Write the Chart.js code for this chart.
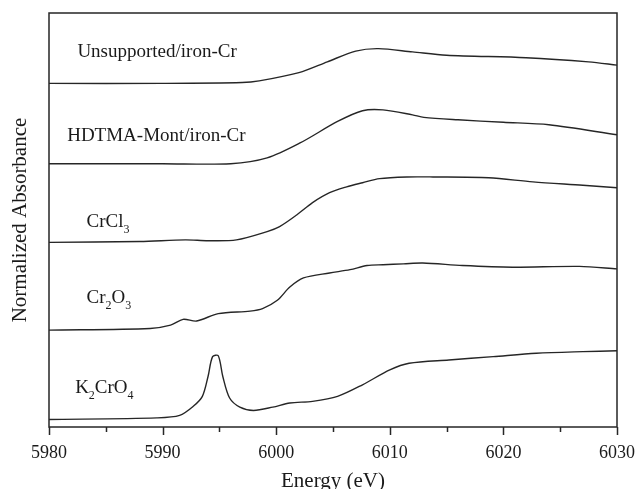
<!DOCTYPE html>
<html>
<head>
<meta charset="utf-8">
<script src="https://cdn.jsdelivr.net/npm/chart.js@4"></script>
<style>
  html, body { margin: 0; padding: 0; background: #fff; }
  #wrap { width: 636px; height: 489px; }
</style>
</head>
<body>
<div id="wrap"><canvas id="xanes"></canvas></div>
<script>
// energies (eV) and stacked normalized absorbance
const unsupportedE   = [5980, 5990, 5997, 5998.5, 6002, 6004.5, 6007, 6009, 6012, 6015, 6022, 6027.5, 6030];
const unsupportedAbs = [4.15, 4.15, 4.16, 4.18, 4.28, 4.41, 4.54, 4.57, 4.53, 4.49, 4.46, 4.41, 4.37];

const hdtmaE   = [5980, 5990, 5996, 5999.2, 6002.1, 6005.4, 6007.6, 6009.4, 6012, 6013, 6016, 6020, 6024, 6030];
const hdtmaAbs = [3.18, 3.18, 3.18, 3.25, 3.43, 3.69, 3.82, 3.83, 3.77, 3.74, 3.71, 3.68, 3.65, 3.53];

const crcl3E   = [5980, 5988, 5992, 5994, 5996.5, 5999.2, 6000.3, 6001.8, 6003.2, 6004.7, 6006.2, 6007.6, 6009.1, 6011.5, 6013.8, 6018.7, 6022.6, 6027, 6030];
const crcl3Abs = [2.23, 2.24, 2.26, 2.25, 2.26, 2.36, 2.42, 2.56, 2.71, 2.83, 2.90, 2.95, 3.00, 3.02, 3.02, 3.01, 2.96, 2.92, 2.89];

const cr2o3E   = [5980, 5988.9, 5990.7, 5991.8, 5993, 5994.9, 5997.7, 5998.8, 6000.1, 6001.2, 6002.4, 6004.7, 6006.5, 6008, 6009.4, 6011.2, 6012.9, 6016.4, 6020.8, 6026.7, 6030];
const cr2o3Abs = [1.17, 1.19, 1.23, 1.30, 1.28, 1.37, 1.40, 1.43, 1.53, 1.69, 1.80, 1.86, 1.90, 1.95, 1.96, 1.97, 1.98, 1.95, 1.93, 1.94, 1.91];

const k2cro4E   = [5980, 5989.5, 5991.5, 5992.7, 5993.5, 5994, 5994.4, 5994.9, 5995.3, 5995.9, 5996.8, 5998, 5999.7, 6001.2, 6003.2, 6005.4, 6007.6, 6010, 6011.7, 6015.2, 6019.1, 6022.9, 6027, 6030];
const k2cro4Abs = [0.09, 0.11, 0.14, 0.25, 0.37, 0.61, 0.85, 0.86, 0.61, 0.35, 0.24, 0.20, 0.24, 0.29, 0.31, 0.37, 0.51, 0.69, 0.77, 0.81, 0.85, 0.89, 0.91, 0.92];

const xTicks = [5980, 5990, 6000, 6010, 6020, 6030];

// sample names; "_" marks a subscript digit
const sampleNames = ['Unsupported/iron-Cr', 'HDTMA-Mont/iron-Cr', 'CrCl_3', 'Cr_2O_3', 'K_2CrO_4'];
const nameAnchorE = [5982.5, 5981.6, 5983.3, 5983.3, 5982.3];
const nameAnchorY = [4.47, 3.45, 2.42, 1.50, 0.41];

const series = [
  [unsupportedE, unsupportedAbs],
  [hdtmaE, hdtmaAbs],
  [crcl3E, crcl3Abs],
  [cr2o3E, cr2o3Abs],
  [k2cro4E, k2cro4Abs]
];

const ink = '#262626';

// frame, ticks and sample names
const decor = {
  id: 'decor',
  afterDraw(chart) {
    const { ctx, chartArea: a, scales: { x, y } } = chart;
    ctx.save();
    ctx.strokeStyle = ink;
    ctx.lineWidth = 1.5;
    ctx.strokeRect(a.left, a.top, a.right - a.left, a.bottom - a.top);
    ctx.beginPath();
    for (let v = 5980; v <= 6030; v += 5) {
      const px = Math.round(x.getPixelForValue(v)) + 0.5;
      const len = v % 10 === 0 ? 8 : 5;
      ctx.moveTo(px, a.bottom);
      ctx.lineTo(px, a.bottom + len);
    }
    ctx.stroke();

    ctx.fillStyle = '#1a1a1a';
    ctx.textBaseline = 'alphabetic';
    ctx.textAlign = 'left';
    sampleNames.forEach((name, i) => {
      let px = x.getPixelForValue(nameAnchorE[i]);
      const py = y.getPixelForValue(nameAnchorY[i]);
      const parts = name.split(/(_\d)/).filter(s => s);
      parts.forEach(p => {
        if (p[0] === '_') {
          ctx.font = '12px "Liberation Serif", serif';
          ctx.fillText(p.slice(1), px, py + 6);
          px += ctx.measureText(p.slice(1)).width;
        } else {
          ctx.font = '19px "Liberation Serif", serif';
          ctx.fillText(p, px, py);
          px += ctx.measureText(p).width;
        }
      });
    });
    ctx.restore();
  }
};

new Chart(document.getElementById('xanes'), {
  type: 'line',
  data: {
    datasets: series.map(([e, a], i) => ({
      label: sampleNames[i].replace(/_/g, ''),
      data: e.map((v, j) => ({ x: v, y: a[j] })),
      borderColor: ink,
      borderWidth: 1.4,
      pointRadius: 0,
      fill: false,
      tension: 0.3
    }))
  },
  options: {
    responsive: true,
    maintainAspectRatio: false,
    animation: false,
    layout: { padding: { top: 13, right: 19, left: 0, bottom: 0 } },
    plugins: {
      legend: { display: false },
      tooltip: { enabled: false }
    },
    scales: {
      x: {
        type: 'linear',
        min: 5980,
        max: 6030,
        afterBuildTicks: s => { s.ticks = xTicks.map(v => ({ value: v })); },
        afterFit: s => { s.height = 62; s.paddingRight = 0; s.paddingLeft = 0; },
        border: { display: false },
        grid: { drawOnChartArea: false, color: 'rgba(0,0,0,0)', tickLength: 8 },
        ticks: {
          padding: 7,
          color: '#1a1a1a',
          maxRotation: 0,
          callback: v => String(v),
          font: { family: '"Liberation Serif", serif', size: 18 }
        },
        title: {
          display: true,
          text: 'Energy (eV)',
          color: '#1a1a1a',
          font: { family: '"Liberation Serif", serif', size: 21, lineHeight: 1 },
          padding: { top: 0, bottom: -3 }
        }
      },
      y: {
        min: 0,
        max: 5,
        afterFit: s => { s.width = 49; },
        border: { display: false },
        grid: { display: false },
        ticks: { display: false },
        title: {
          display: true,
          text: 'Normalized Absorbance',
          color: '#1a1a1a',
          font: { family: '"Liberation Serif", serif', size: 21, lineHeight: 1.2 },
          padding: { top: 8, bottom: 0 }
        }
      }
    }
  },
  plugins: [decor]
});
</script>
</body>
</html>
